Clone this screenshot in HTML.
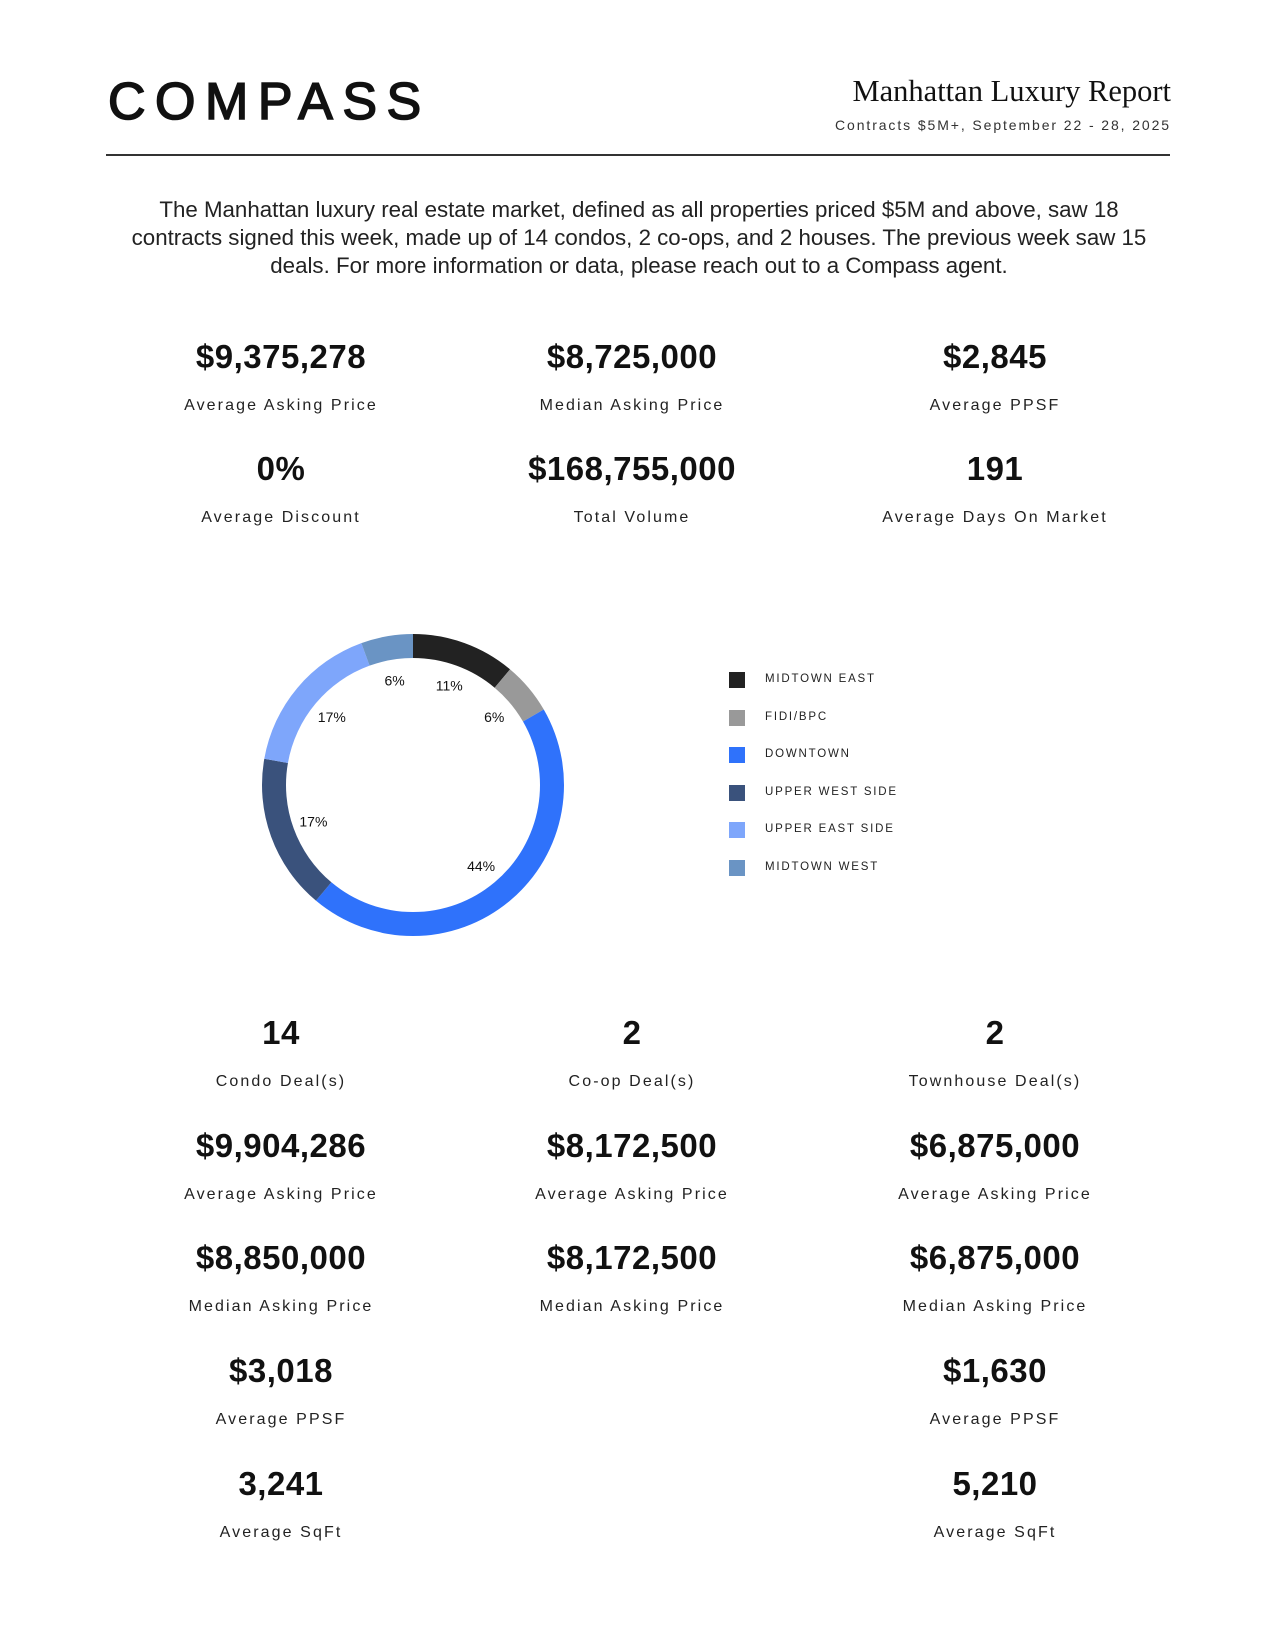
<!DOCTYPE html>
<html><head><meta charset="utf-8">
<style>
html,body{margin:0;padding:0;background:#fff;}
body{width:1275px;height:1650px;position:relative;overflow:hidden;font-family:"Liberation Sans",sans-serif;color:#111;}
.abs{position:absolute;}
.logo{left:108px;top:76px;font-size:52px;letter-spacing:9.5px;font-weight:400;line-height:1;-webkit-text-stroke:1.6px #111;}
.title{right:104px;top:74px;font-family:"Liberation Serif",serif;font-size:30.5px;}
.sub{right:104px;top:117px;font-size:14px;letter-spacing:1.9px;color:#333;}
.rule{left:106px;top:154px;width:1064px;height:2px;background:#333;}
.para{left:60px;width:1158px;top:196px;text-align:center;font-size:22.3px;line-height:28px;color:#222;}
.val{position:absolute;width:400px;margin-left:-200px;text-align:center;font-weight:700;font-size:33px;line-height:40px;letter-spacing:0.5px;}
.lab{position:absolute;width:400px;margin-left:-200px;text-align:center;font-size:16px;line-height:20px;letter-spacing:2.1px;color:#222;}
.leg{position:absolute;left:729px;}
.leg .sw{position:absolute;left:0;top:-8px;width:16px;height:16px;}
.leg .tx{position:absolute;left:36px;top:-7px;font-size:11.5px;letter-spacing:1.8px;white-space:nowrap;color:#222;}
</style></head><body>
<div class="abs logo">COMPASS</div>
<div class="abs title">Manhattan Luxury Report</div>
<div class="abs sub">Contracts $5M+, September 22 - 28, 2025</div>
<div class="abs rule"></div>
<div class="abs para">The Manhattan luxury real estate market, defined as all properties priced $5M and above, saw 18<br>contracts signed this week, made up of 14 condos, 2 co-ops, and 2 houses. The previous week saw 15<br>deals. For more information or data, please reach out to a Compass agent.</div>

<div id="stats"></div>

<svg class="abs" style="left:0;top:0" width="1275" height="1650" id="chart"></svg>
<div id="legend"></div>

<script>
const categories=["MIDTOWN EAST","FIDI/BPC","DOWNTOWN","UPPER WEST SIDE","UPPER EAST SIDE","MIDTOWN WEST"];
const counts=[2,1,8,3,3,1];
const pctLabels=["11%","6%","44%","17%","17%","6%"];
const colors=["#222222","#999999","#2f72fb","#3a527c","#7ea6fb","#6a94c4"];

const stats=[
 [281,357,"$9,375,278","Average Asking Price"],[632,357,"$8,725,000","Median Asking Price"],[995,357,"$2,845","Average PPSF"],
 [281,469,"0%","Average Discount"],[632,469,"$168,755,000","Total Volume"],[995,469,"191","Average Days On Market"],
 [281,1033,"14","Condo Deal(s)"],[632,1033,"2","Co-op Deal(s)"],[995,1033,"2","Townhouse Deal(s)"],
 [281,1146,"$9,904,286","Average Asking Price"],[632,1146,"$8,172,500","Average Asking Price"],[995,1146,"$6,875,000","Average Asking Price"],
 [281,1258,"$8,850,000","Median Asking Price"],[632,1258,"$8,172,500","Median Asking Price"],[995,1258,"$6,875,000","Median Asking Price"],
 [281,1371,"$3,018","Average PPSF"],[995,1371,"$1,630","Average PPSF"],
 [281,1484,"3,241","Average SqFt"],[995,1484,"5,210","Average SqFt"]
];
const st=document.getElementById('stats');
stats.forEach(s=>{
 const v=document.createElement('div');v.className='val';v.style.left=s[0]+'px';v.style.top=(s[1]-20)+'px';v.textContent=s[2];
 
 
 const l=document.createElement('div');l.className='lab';l.style.left=s[0]+'px';l.style.top=(s[1]+39)+'px';l.textContent=s[3];
 
 
 st.appendChild(v);st.appendChild(l);
});

const NS='http://www.w3.org/2000/svg';
const svg=document.getElementById('chart');
const cx=413,cy=785,ro=151,ri=127,rl=106;
const total=counts.reduce((a,b)=>a+b,0);
function pt(r,a){return [cx+r*Math.sin(a),cy-r*Math.cos(a)];}
let a0=0;
counts.forEach((c,i)=>{
 const a1=a0+c/total*2*Math.PI;
 const large=(a1-a0)>Math.PI?1:0;
 const p1=pt(ro,a0),p2=pt(ro,a1),p3=pt(ri,a1),p4=pt(ri,a0);
 const p=document.createElementNS(NS,'path');
 p.setAttribute('d',`M${p1} A${ro},${ro} 0 ${large} 1 ${p2} L${p3} A${ri},${ri} 0 ${large} 0 ${p4}Z`);
 p.setAttribute('fill',colors[i]);
 
 
 svg.appendChild(p);
 const m=(a0+a1)/2,lp=pt(rl,m);
 const t=document.createElementNS(NS,'text');
 t.setAttribute('x',lp[0]);t.setAttribute('y',lp[1]+5);
 t.setAttribute('text-anchor','middle');t.setAttribute('font-size','14');
 t.setAttribute('font-family','Liberation Sans, sans-serif');t.setAttribute('fill','#111');
 t.textContent=pctLabels[i];
 
 
 svg.appendChild(t);
 a0=a1;
});

const lg=document.getElementById('legend');
categories.forEach((c,i)=>{
 const d=document.createElement('div');d.className='leg';d.style.top=(680+i*37.6)+'px';
 d.innerHTML=`<div class="sw" style="background:${colors[i]}"></div><div class="tx">${c}</div>`;
 
 
 lg.appendChild(d);
});
</script>
</body></html>
